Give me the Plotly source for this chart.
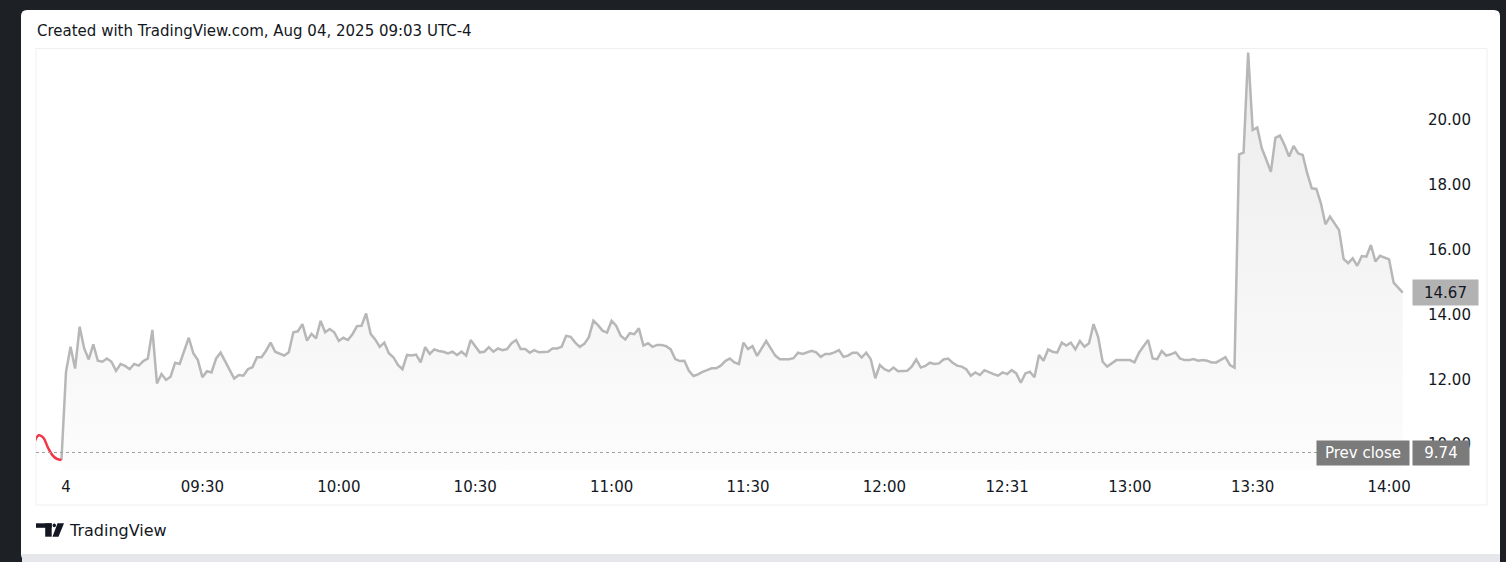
import plotly.graph_objects as go

# ---------------- data ----------------
title_text = "Created with TradingView.com, Aug 04, 2025 09:03 UTC-4"
brand_text = "TradingView"

# previous-session tail (red), bars -7..-1
prev_session_vals = [10.05, 10.27, 10.20, 9.90, 9.66, 9.54, 9.51]

# current session 1-minute closes (gray), bars 0..294
session_vals = [
    12.23, 13.00, 12.33, 13.62, 12.95, 12.61, 13.08, 12.57, 12.54, 12.64,
    12.54, 12.26, 12.47, 12.41, 12.31, 12.47, 12.42, 12.56, 12.64, 13.52,
    11.87, 12.16, 11.98, 12.08, 12.51, 12.47, 12.90, 13.28, 12.80, 12.59,
    12.06, 12.25, 12.21, 12.64, 12.82, 12.56, 12.31, 12.02, 12.13, 12.11,
    12.31, 12.37, 12.68, 12.68, 12.88, 13.13, 12.85, 12.78, 12.73, 12.83,
    13.45, 13.48, 13.70, 13.19, 13.40, 13.26, 13.80, 13.45, 13.55, 13.45,
    13.18, 13.28, 13.21, 13.39, 13.64, 13.65, 14.03,
    13.40, 13.23, 13.00, 13.13, 12.80, 12.68, 12.44, 12.31, 12.75, 12.73,
    12.76, 12.52, 12.99, 12.78, 12.92, 12.87, 12.85, 12.80, 12.85, 12.75,
    12.85, 12.73, 13.21, 13.02, 12.83, 12.85, 12.99, 12.85, 12.95, 12.90,
    12.93, 13.11, 13.21, 12.93, 12.93, 12.82, 12.90, 12.83, 12.83, 12.85,
    12.95, 12.95, 13.00, 13.34, 13.31, 13.13, 13.00, 13.09, 13.30, 13.81,
    13.67, 13.50, 13.44, 13.80, 13.65, 13.34, 13.23, 13.42, 13.39, 13.57,
    13.04, 13.11, 13.00, 13.06, 13.06, 13.02, 12.92, 12.62, 12.56, 12.57,
    12.26, 12.10, 12.15,
    12.23, 12.28, 12.34, 12.34, 12.42, 12.56, 12.64, 12.52, 12.47, 13.13,
    12.93, 13.02, 12.72, 12.95, 13.18, 12.95, 12.73, 12.62, 12.61, 12.62,
    12.65, 12.82, 12.78, 12.82, 12.88, 12.83, 12.69, 12.78, 12.78, 12.83,
    12.90, 12.69, 12.73, 12.82, 12.82, 12.67, 12.82, 12.62, 12.03, 12.44,
    12.31, 12.25, 12.36, 12.25, 12.26, 12.26, 12.39, 12.61, 12.36, 12.41,
    12.51, 12.47, 12.49, 12.61, 12.64, 12.51, 12.42, 12.39, 12.31, 12.11,
    12.21, 12.13, 12.28, 12.21, 12.16, 12.11, 12.21, 12.16, 12.28, 12.18,
    11.89, 12.18, 12.23, 12.06, 12.75, 12.57, 12.92,
    12.85, 12.82, 13.13, 13.04, 13.13, 12.92, 13.18, 13.00, 13.11, 13.70,
    13.31, 12.54, 12.39, 12.49, 12.59, 12.59, 12.59, 12.59, 12.52, 12.82,
    13.02, 13.21, 12.64, 12.62, 12.87, 12.73, 12.77, 12.83, 12.64, 12.59,
    12.59, 12.62, 12.57, 12.59, 12.57, 12.52, 12.52, 12.60, 12.68, 12.44,
    12.36,
    18.94, 18.99, 22.08, 19.69, 19.77, 19.13, 18.77, 18.40, 19.45, 19.52,
    19.23, 18.87, 19.20, 18.97, 18.92, 18.35, 17.89, 17.87, 17.43, 16.78,
    17.02, 16.81, 16.60, 15.71, 15.58, 15.73, 15.50, 15.80, 15.78, 16.14,
    15.63, 15.81, 15.76, 15.70, 14.98, 14.84, 14.67,
]

time_tick_bars = [0, 30, 60, 90, 120, 150, 180, 207, 234, 261, 291]
time_tick_labels = ["4", "09:30", "10:00", "10:30", "11:00", "11:30",
                    "12:00", "12:31", "13:00", "13:30", "14:00"]
price_ticks = [10, 12, 14, 16, 18, 20]
prev_close = 9.74
last_price = session_vals[-1]

# ---------------- geometry / style ----------------
W, H = 1506, 562
L, R, T, B = 36, 96, 48, 92
PW, PH = W - L - R, H - T - B


def fx(p):
    return (p - L) / PW


def fy(p):
    return (H - B - p) / PH


FONT = "DejaVu Sans"
TXT = "#131722"
GRAY_LINE = "#b7b7b7"
RED = "#f23645"

prev_x = list(range(-len(prev_session_vals), 0))
sess_x = [-1] + list(range(len(session_vals)))
sess_y = [prev_session_vals[-1]] + session_vals

fig = go.Figure()

fig.add_trace(go.Scatter(
    x=sess_x, y=sess_y, mode="lines",
    line=dict(color=GRAY_LINE, width=2.5),
    fill="tozeroy",
    fillgradient=dict(type="vertical",
                      colorscale=[[0, "rgba(190,190,190,0.04)"],
                                  [1, "rgba(190,190,190,0.30)"]],
                      start=9.2, stop=22.2),
    hoverinfo="skip", showlegend=False,
))

fig.add_trace(go.Scatter(
    x=prev_x, y=prev_session_vals, mode="lines",
    line=dict(color=RED, width=2.5, shape="spline", smoothing=1.0),
    hoverinfo="skip", showlegend=False,
))

shapes = []


def rounded_rect(x0, y0, x1, y1, r):
    return (f"M {fx(x0 + r)} {fy(y0)} L {fx(x1 - r)} {fy(y0)} "
            f"Q {fx(x1)} {fy(y0)} {fx(x1)} {fy(y0 + r)} "
            f"L {fx(x1)} {fy(y1 - r)} Q {fx(x1)} {fy(y1)} {fx(x1 - r)} {fy(y1)} "
            f"L {fx(x0 + r)} {fy(y1)} Q {fx(x0)} {fy(y1)} {fx(x0)} {fy(y1 - r)} "
            f"L {fx(x0)} {fy(y0 + r)} Q {fx(x0)} {fy(y0)} {fx(x0 + r)} {fy(y0)} Z")


shapes.append(dict(type="path", xref="paper", yref="paper",
                   path=rounded_rect(21, 10, 1500, 560, 6),
                   fillcolor="#ffffff", line=dict(width=0), layer="below"))
# bottom light strip
shapes.append(dict(type="rect", xref="paper", yref="paper",
                   x0=fx(22), x1=fx(1500), y0=fy(554), y1=fy(562),
                   fillcolor="#e6e7ea", line=dict(width=0), layer="below"))
# pane border
shapes.append(dict(type="rect", xref="paper", yref="paper",
                   x0=fx(36), x1=fx(1487), y0=fy(48.5), y1=fy(505),
                   fillcolor="rgba(0,0,0,0)", line=dict(color="#eeeff2", width=1),
                   layer="below"))
# prev close dotted line
shapes.append(dict(type="line", xref="paper", yref="y",
                   x0=0, x1=1, y0=prev_close, y1=prev_close,
                   line=dict(color="#a0a0a0", width=1, dash="dot"), layer="above"))

# TradingView logo glyph
shapes.append(dict(type="rect", xref="paper", yref="paper",
                   x0=fx(36), x1=fx(51.7), y0=fy(523.3), y1=fy(527.8),
                   fillcolor=TXT, line=dict(width=0)))
shapes.append(dict(type="rect", xref="paper", yref="paper",
                   x0=fx(45.2), x1=fx(51.7), y0=fy(523.3), y1=fy(536.7),
                   fillcolor=TXT, line=dict(width=0)))
shapes.append(dict(type="circle", xref="paper", yref="paper",
                   x0=fx(52.6), x1=fx(56.0), y0=fy(523.6), y1=fy(527.2),
                   fillcolor=TXT, line=dict(width=0)))
shapes.append(dict(type="path", xref="paper", yref="paper",
                   path=(f"M {fx(57.5)} {fy(523.3)} L {fx(64)} {fy(523.3)} "
                         f"L {fx(58.5)} {fy(536.7)} L {fx(52.5)} {fy(536.7)} Z"),
                   fillcolor=TXT, line=dict(width=0)))

annotations = [
    dict(text=title_text, xref="paper", yref="paper", x=fx(35), y=fy(31),
         xanchor="left", yanchor="middle", showarrow=False,
         font=dict(family=FONT, size=15, color=TXT)),
    dict(text=brand_text, xref="paper", yref="paper", x=fx(67), y=fy(530),
         xanchor="left", yanchor="middle", showarrow=False,
         font=dict(family=FONT, size=16, color=TXT)),
    dict(text=f"{last_price:.2f}", xref="paper", yref="y", x=fx(1412),
         y=last_price, xanchor="left", yanchor="middle", showarrow=False,
         bgcolor="#b2b2b2", width=59, height=19, borderpad=3, align="center",
         font=dict(family=FONT, size=15, color=TXT)),
    dict(text="Prev close", xref="paper", yref="y", x=fx(1410),
         y=prev_close, xanchor="right", yanchor="middle", showarrow=False,
         bgcolor="#7b7b7b", width=86, height=18, borderpad=3, align="center",
         font=dict(family=FONT, size=15, color="#ffffff")),
    dict(text=f"{prev_close:.2f}", xref="paper", yref="y", x=fx(1412),
         y=prev_close, xanchor="left", yanchor="middle", showarrow=False,
         bgcolor="#7b7b7b", width=50, height=18, borderpad=3, align="center",
         font=dict(family=FONT, size=15, color="#ffffff")),
]

fig.update_layout(
    width=W, height=H,
    margin=dict(l=L, r=R, t=T, b=B, pad=0),
    paper_bgcolor="#1d2024",
    plot_bgcolor="rgba(0,0,0,0)",
    showlegend=False,
    shapes=shapes,
    annotations=annotations,
    xaxis=dict(range=[-6.6, 295.6], tickmode="array",
               tickvals=time_tick_bars, ticktext=time_tick_labels,
               showgrid=False, zeroline=False, showline=False, ticks="",
               ticklabelstandoff=6,
               tickfont=dict(family=FONT, size=15, color=TXT),
               fixedrange=True),
    yaxis=dict(range=[9.2, 22.22], side="right", tickmode="array",
               tickvals=price_ticks, tickformat=".2f",
               showgrid=False, zeroline=False, showline=False, ticks="",
               ticklabelstandoff=17,
               tickfont=dict(family=FONT, size=15, color=TXT),
               fixedrange=True),
    hovermode=False,
)

fig.write_html("out.html",
               config={"displayModeBar": False, "staticPlot": True},
               post_script="document.body.style.margin='0';"
                           "document.body.style.overflow='hidden';")
